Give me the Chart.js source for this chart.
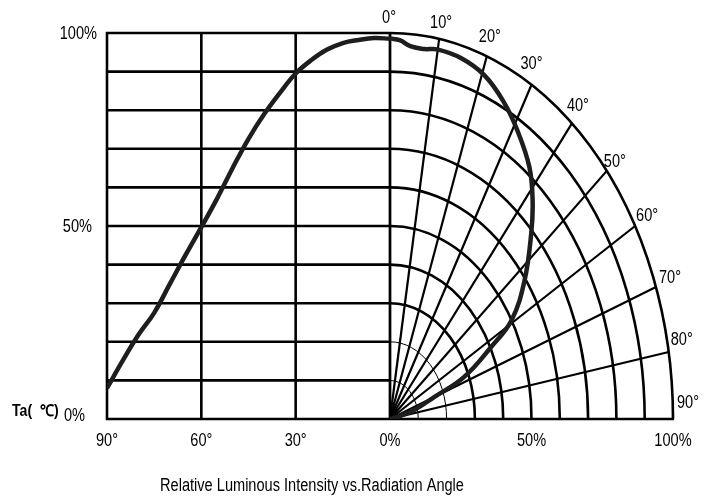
<!DOCTYPE html>
<html>
<head>
<meta charset="utf-8">
<script src="https://cdn.jsdelivr.net/npm/chart.js@4.4.1/dist/chart.umd.min.js"></script>
<style>
  html, body { margin: 0; padding: 0; background: #fff; }
  #wrap { width: 715px; height: 497px; position: relative; }
</style>
</head>
<body>
<div id="wrap"><canvas id="grafico"></canvas></div>
<script>
// curva izquierda: intensidad relativa vs angulo (grados)
const anguloIzq = [0, 5, 10, 15, 20, 25, 30, 35, 40, 45, 50, 55, 60, 65, 70, 75, 80, 85, 90];
const intensidadIzq = [0.985, 0.987, 0.982, 0.974, 0.957, 0.930, 0.895, 0.845, 0.790, 0.726, 0.651, 0.571, 0.497, 0.425, 0.350, 0.275, 0.218, 0.151, 0.080];

// curva polar (derecha)
const anguloPolar = [0, 2, 4.4, 7.2, 9.9, 15, 20.5, 26, 31, 37, 41.6, 46, 53, 59.2, 62.4, 67.4, 70, 74.8, 78, 90];
const intensidadPolar = [0.986, 0.982, 0.968, 0.966, 0.972, 0.968, 0.951, 0.915, 0.873, 0.818, 0.759, 0.694, 0.595, 0.500, 0.404, 0.284, 0.166, 0.088, 0.030, 0];

// ejes / etiquetas
const ticksAnguloInf = [90, 60, 30];
const etiquetasAnguloInf = ["90°", "60°", "30°"];
const ticksIntensidadInf = [0, 50, 100];
const etiquetasIntensidadInf = ["0%", "50%", "100%"];
const ticksY = [0, 50, 100];
const etiquetasY = ["0%", "50%", "100%"];
const lineasHorizontales = [10, 20, 30, 40, 50, 60, 70, 80, 90, 100];
const lineasVerticales = [90, 60, 30, 0];
const radiosPolar = [10, 20, 30, 40, 50, 60, 70, 80, 90, 100];
const radiosFinos = [10, 20];
const angulosPolar = [0, 10, 20, 30, 40, 50, 60, 70, 80, 90];
const etiquetasPolar = ["0°", "10°", "20°", "30°", "40°", "50°", "60°", "70°", "80°", "90°"];
const tituloEjeY = "Ta(  \u2103)";
const tituloGrafico = "Relative Luminous Intensity vs.Radiation Angle";

const rad = (g) => g * Math.PI / 180;

const puntosIzq = anguloIzq.map((a, i) => ({ x: -a / 90, y: intensidadIzq[i] }));
const puntosPolar = anguloPolar.map((a, i) => ({
  x: intensidadPolar[i] * Math.sin(rad(a)),
  y: intensidadPolar[i] * Math.cos(rad(a))
}));

const fuente = '"Liberation Sans", Arial, sans-serif';
const estrecho = 0.81; // el original usa una letra estrecha

// desplazamiento (px) de cada etiqueta de angulo respecto al extremo del radio
const ajusteEtiquetas = [[-1, -15], [2, -16], [3, -19], [0, -21], [6, -17], [8, -9], [12, -10], [14, -9], [13, -12], [15, -16]];

function texto(ctx, str, x, y, escala) {
  ctx.save();
  ctx.translate(x, y);
  ctx.scale(escala || estrecho, 1);
  ctx.fillText(str, 0, 0);
  ctx.restore();
}

const rejilla = {
  id: "rejilla",
  beforeDatasetsDraw(chart) {
    const ctx = chart.ctx;
    const xs = chart.scales.x, ys = chart.scales.y;
    const cx = xs.getPixelForValue(0), cy = ys.getPixelForValue(0);
    ctx.save();
    ctx.strokeStyle = "#000";
    ctx.lineCap = "butt";

    // lineas horizontales del lado izquierdo
    ctx.lineWidth = 2.6;
    lineasHorizontales.forEach(v => {
      const y = ys.getPixelForValue(v / 100);
      ctx.beginPath();
      ctx.moveTo(xs.getPixelForValue(-1) - 1, y);
      ctx.lineTo(cx, y);
      ctx.stroke();
    });
    // linea base completa
    ctx.beginPath();
    ctx.moveTo(xs.getPixelForValue(-1) - 1, cy);
    ctx.lineTo(xs.getPixelForValue(1) + 1, cy);
    ctx.stroke();

    // verticales
    lineasVerticales.forEach(a => {
      const x = xs.getPixelForValue(-a / 90);
      ctx.beginPath();
      ctx.moveTo(x, ys.getPixelForValue(1) - 1);
      ctx.lineTo(x, cy + 1);
      ctx.stroke();
    });

    // arcos polares
    radiosPolar.forEach(r => {
      const rx = xs.getPixelForValue(r / 100) - cx;
      const ry = cy - ys.getPixelForValue(r / 100);
      ctx.lineWidth = radiosFinos.includes(r) ? 1 : 2.6;
      ctx.beginPath();
      ctx.ellipse(cx, cy, rx, ry, 0, -Math.PI / 2, 0);
      ctx.stroke();
    });

    // radios
    ctx.lineWidth = 2.2;
    angulosPolar.forEach(a => {
      ctx.beginPath();
      ctx.moveTo(cx, cy);
      ctx.lineTo(xs.getPixelForValue(Math.sin(rad(a))), ys.getPixelForValue(Math.cos(rad(a))));
      ctx.stroke();
    });
    ctx.restore();
  },
  afterDraw(chart) {
    const ctx = chart.ctx;
    const xs = chart.scales.x, ys = chart.scales.y;
    const area = chart.chartArea;
    ctx.save();
    ctx.fillStyle = "#000";
    ctx.font = "18px " + fuente;
    ctx.textBaseline = "middle";

    // eje Y
    ctx.textAlign = "right";
    ticksY.forEach((v, i) => {
      const y = ys.getPixelForValue(v / 100);
      if (v === 0) texto(ctx, etiquetasY[i], area.left - 22, y - 3);
      else if (v === 100) texto(ctx, etiquetasY[i], area.left - 10, y + 1);
      else texto(ctx, etiquetasY[i], area.left - 15, y + 1);
    });
    ctx.font = "bold 16px " + fuente;
    ctx.textAlign = "left";
    texto(ctx, tituloEjeY, 12, ys.getPixelForValue(0) - 7, 0.88);

    // eje X
    ctx.font = "18px " + fuente;
    ctx.textAlign = "center";
    const yInf = area.bottom + 22;
    ticksAnguloInf.forEach((a, i) => texto(ctx, etiquetasAnguloInf[i], xs.getPixelForValue(-a / 90), yInf));
    ticksIntensidadInf.forEach((v, i) => texto(ctx, etiquetasIntensidadInf[i], xs.getPixelForValue(v / 100), yInf));

    // etiquetas de angulo
    angulosPolar.forEach((a, i) => {
      const x = xs.getPixelForValue(Math.sin(rad(a))) + ajusteEtiquetas[i][0];
      const y = ys.getPixelForValue(Math.cos(rad(a))) + ajusteEtiquetas[i][1];
      texto(ctx, etiquetasPolar[i], x, y);
    });

    // titulo
    texto(ctx, tituloGrafico, 312, area.bottom + 67);
    ctx.restore();
  }
};

new Chart(document.getElementById("grafico").getContext("2d"), {
  type: "scatter",
  data: {
    datasets: [
      {
        label: "izquierda",
        data: puntosIzq,
        showLine: true,
        borderColor: "#1e1e1e",
        borderWidth: 4.5,
        pointRadius: 0,
        tension: 0.4
      },
      {
        label: "polar",
        data: puntosPolar,
        showLine: true,
        borderColor: "#1e1e1e",
        borderWidth: 4.5,
        pointRadius: 0,
        tension: 0.4
      }
    ]
  },
  options: {
    responsive: true,
    maintainAspectRatio: false,
    animation: false,
    layout: { padding: { left: 107, right: 42, top: 33, bottom: 78 } },
    scales: {
      x: { type: "linear", min: -1, max: 1, display: false },
      y: { type: "linear", min: 0, max: 1, display: false }
    },
    plugins: {
      legend: { display: false },
      tooltip: { enabled: false }
    }
  },
  plugins: [rejilla]
});
</script>
</body>
</html>
